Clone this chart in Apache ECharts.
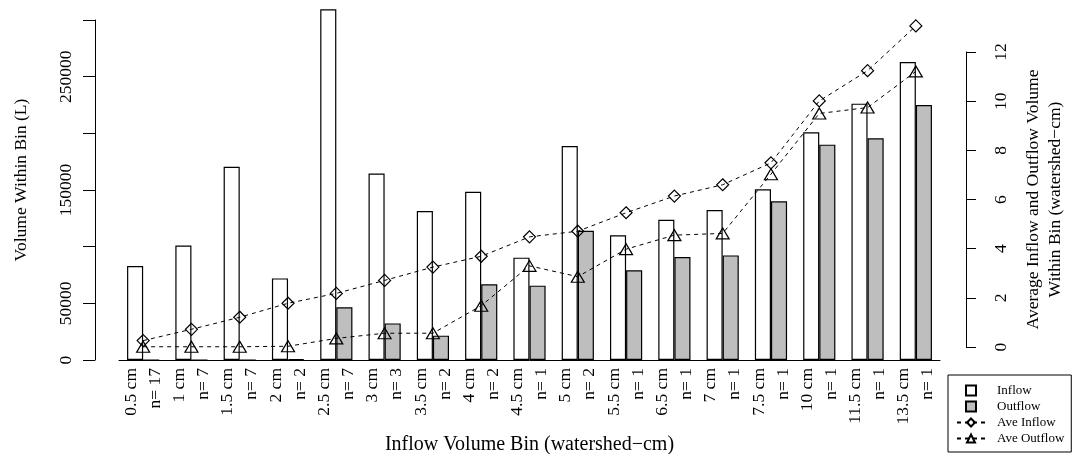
<!DOCTYPE html>
<html>
<head>
<meta charset="utf-8">
<script src="https://cdn.jsdelivr.net/npm/echarts@6/dist/echarts.min.js"></script>
<style>
  html, body { margin: 0; padding: 0; background: #fff; }
  #chart { width: 1075px; height: 454px; }
</style>
</head>
<body>
<div id="chart"></div>
<script>
// inflow volume bins (watershed-cm) and number of events per bin
var binLabels = ["0.5 cm", "1 cm", "1.5 cm", "2 cm", "2.5 cm", "3 cm", "3.5 cm", "4 cm", "4.5 cm",
  "5 cm", "5.5 cm", "6.5 cm", "7 cm", "7.5 cm", "10 cm", "11.5 cm", "13.5 cm"];
var binCounts = [17, 7, 7, 2, 7, 3, 2, 2, 1, 2, 1, 1, 1, 1, 1, 1, 1];

// volume within bin (L)
var inflowVol = [83000, 101000, 170500, 72000, 309500, 164500, 131500, 148500, 90300,
  188800, 110000, 123800, 132300, 150600, 200900, 226200, 262900];
var outflowVol = [0, 0, 0, 600, 46500, 32300, 21500, 66800, 65600,
  114100, 79100, 90900, 92300, 140000, 190000, 195600, 225000];

// average inflow / outflow within bin (watershed-cm)
var aveInflow = [0.26, 0.72, 1.21, 1.78, 2.18, 2.71, 3.25, 3.69, 4.48,
  4.71, 5.46, 6.14, 6.6, 7.49, 10.01, 11.24, 13.06];
var aveOutflow = [0.01, 0.01, 0.01, 0.03, 0.35, 0.56, 0.56, 1.68, 3.3,
  2.86, 3.98, 4.55, 4.62, 7.03, 9.5, 9.74, 11.21];

// left axis only labels every other tick
var volTickLabels = ["0", "50000", "", "150000", "", "250000", ""];

var serif = '"Liberation Serif", "DejaVu Serif", serif';
var squareIcon = "path://M0,0H10V10H0Z";

var chart = echarts.init(document.getElementById("chart"));

var option = {
  animation: false,
  backgroundColor: "#fff",
  textStyle: { fontFamily: serif, color: "#000" },
  grid: [
    { left: 119, right: 135, top: 20, bottom: 94, outerBoundsMode: "none" },   // bars
    { left: 119, right: 135, top: 52, bottom: 107, outerBoundsMode: "none" }  // averages (right axis)
  ],
  legend: {
    orient: "vertical",
    left: 948,
    top: 375,
    padding: [9, 7, 7, 8],
    itemGap: 3,
    itemWidth: 28,
    itemHeight: 10,
    borderColor: "#000",
    borderWidth: 1,
    borderRadius: 0,
    textStyle: { fontFamily: serif, fontSize: 13, color: "#000", lineHeight: 13, padding: [0, 0, 0, 7] },
    data: [
      { name: "Inflow", icon: squareIcon },
      { name: "Outflow", icon: squareIcon },
      "Ave Inflow",
      "Ave Outflow"
    ]
  },
  xAxis: [
    {
      type: "category",
      gridIndex: 0,
      data: binLabels,
      axisLine: { show: true, lineStyle: { color: "#000", width: 1 } },
      axisTick: { show: false },
      axisLabel: {
        interval: 0,
        rotate: 90,
        margin: 8,
        fontSize: 17.5,
        lineHeight: 24,
        color: "#000",
        fontFamily: serif,
        formatter: function (val, idx) {
          return val + "\nn= " + binCounts[idx];
        }
      },
      name: "Inflow Volume Bin (watershed\u2212cm)",
      nameLocation: "middle",
      nameGap: 75,
      nameTextStyle: { fontSize: 20, color: "#000", fontFamily: serif }
    },
    {
      type: "category",
      gridIndex: 1,
      data: binLabels,
      show: false
    }
  ],
  yAxis: [
    {
      type: "value",
      gridIndex: 0,
      position: "left",
      offset: 24,
      min: 0,
      max: 300000,
      interval: 50000,
      splitLine: { show: false },
      axisLine: { show: true, lineStyle: { color: "#000", width: 1 } },
      axisTick: { show: true, length: 12, lineStyle: { color: "#000" } },
      axisLabel: {
        rotate: 90,
        margin: 20,
        fontSize: 17.5,
        color: "#000",
        fontFamily: serif,
        formatter: function (v) {
          return volTickLabels[Math.round(v / 50000)];
        }
      },
      name: "Volume Within Bin (L)",
      nameLocation: "middle",
      nameRotate: 90,
      nameGap: 65,
      nameTextStyle: { fontSize: 17.5, color: "#000", fontFamily: serif, padding: [0, 0, 0, 20] }
    },
    {
      type: "value",
      gridIndex: 1,
      position: "right",
      offset: 26,
      min: 0,
      max: 12,
      interval: 2,
      splitLine: { show: false },
      axisLine: { show: true, lineStyle: { color: "#000", width: 1 } },
      axisTick: { show: true, length: 10, lineStyle: { color: "#000" } },
      axisLabel: {
        rotate: 90,
        margin: 26,
        fontSize: 17.5,
        color: "#000",
        fontFamily: serif
      },
      name: "Average Inflow and Outflow Volume\nWithin Bin (watershed\u2212cm)",
      nameLocation: "middle",
      nameRotate: 90,
      nameGap: 56,
      nameTextStyle: { fontSize: 17.5, lineHeight: 22, color: "#000", fontFamily: serif }
    }
  ],
  series: [
    {
      name: "Inflow",
      type: "bar",
      xAxisIndex: 0,
      yAxisIndex: 0,
      data: inflowVol,
      barWidth: 16.1,
      barGap: "0%",
      clip: false,
      itemStyle: { color: "#ffffff", borderColor: "#000", borderWidth: 1.2 }
    },
    {
      name: "Outflow",
      type: "bar",
      xAxisIndex: 0,
      yAxisIndex: 0,
      data: outflowVol,
      barWidth: 16.1,
      barGap: "0%",
      clip: false,
      itemStyle: { color: "#bebebe", borderColor: "#000", borderWidth: 1.2 }
    },
    {
      name: "Ave Inflow",
      type: "line",
      xAxisIndex: 1,
      yAxisIndex: 1,
      data: aveInflow,
      symbol: "diamond",
      symbolSize: 12,
      clip: false,
      z: 3,
      lineStyle: { color: "#000", width: 1, type: [4, 4] },
      itemStyle: { color: "rgba(0,0,0,0)", borderColor: "#000", borderWidth: 1.2 }
    },
    {
      name: "Ave Outflow",
      type: "line",
      xAxisIndex: 1,
      yAxisIndex: 1,
      data: aveOutflow,
      symbol: "triangle",
      symbolSize: [13, 11],
      clip: false,
      z: 3,
      lineStyle: { color: "#000", width: 1, type: [4, 4] },
      itemStyle: { color: "rgba(0,0,0,0)", borderColor: "#000", borderWidth: 1.2 }
    }
  ]
};

chart.setOption(option);

window.addEventListener("resize", function () {
  chart.resize();
});
</script>
</body>
</html>
